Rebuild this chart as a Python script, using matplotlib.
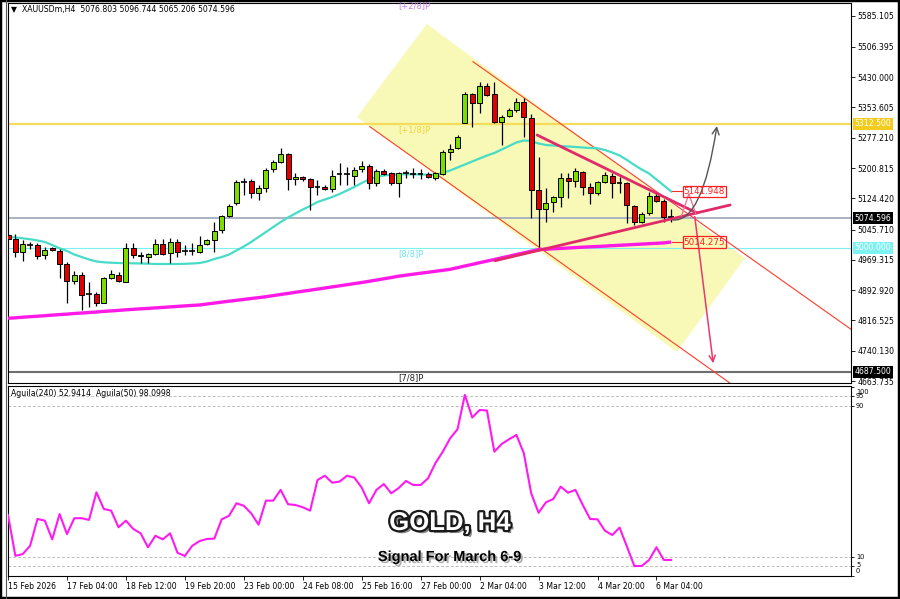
import matplotlib
matplotlib.use("Agg")
import matplotlib.pyplot as plt
import matplotlib.patheffects as pe
import matplotlib.transforms as mtrans
from matplotlib.patches import Polygon, Rectangle, FancyArrowPatch
from matplotlib.path import Path
from matplotlib.lines import Line2D
import numpy as np

# ---------------- data ----------------
header = "\u25BC  XAUUSDm,H4  5076.803 5096.744 5065.206 5074.596"

opens = [5032.0, 5021.2, 4989.9, 5006.8, 5006.8, 4980.8, 5000.0, 4991.7, 4958.1, 4916.8,
         4931.2, 4882.4, 4883.2, 4859.8, 4922.8, 4931.9, 4914.3, 5000.3, 4982.5, 4977.3,
         4983.4, 5009.3, 4985.9, 5015.1, 4991.7, 4991.2, 4989.9, 5009.3, 5019.4, 5044.6,
         5080.0, 5112.0, 5166.5, 5168.9, 5137.2, 5149.8, 5197.7, 5216.9, 5236.3, 5172.5,
         5179.0, 5172.5, 5153.8, 5153.8, 5147.3, 5185.0, 5185.0, 5181.6, 5197.7, 5206.0,
         5162.4, 5194.2, 5187.6, 5164.0, 5187.6, 5186.5, 5185.0, 5185.9, 5176.5, 5185.9,
         5240.6, 5250.7, 5315.2, 5387.6, 5365.7, 5407.8, 5387.6, 5316.2, 5332.2, 5347.3,
         5368.2, 5327.9, 5145.5, 5096.8, 5116.0, 5127.0, 5175.0, 5168.0, 5191.7, 5152.3,
         5138.7, 5166.5, 5180.8, 5164.0, 5162.4, 5105.2, 5065.6, 5086.8, 5130.4, 5118.5, 5076.803]
highs = [5036.0, 5033.8, 5019.4, 5015.0, 5011.0, 5001.0, 5002.0, 4996.0, 4963.2, 4941.2,
         4939.5, 4914.0, 4889.0, 4925.0, 4943.8, 4938.0, 5011.0, 5012.6, 4990.0, 4986.0,
         5022.7, 5021.9, 5023.7, 5021.2, 5006.8, 5011.0, 5030.3, 5021.2, 5065.6, 5082.5,
         5110.0, 5170.7, 5175.0, 5172.5, 5158.0, 5200.2, 5221.2, 5250.7, 5240.0, 5187.6,
         5181.0, 5175.0, 5170.7, 5158.0, 5196.0, 5212.8, 5204.3, 5204.3, 5219.4, 5210.0,
         5198.0, 5198.0, 5191.7, 5191.7, 5196.0, 5200.0, 5198.0, 5190.0, 5192.0, 5246.4,
         5261.5, 5284.0, 5393.5, 5389.0, 5418.6, 5414.6, 5418.6, 5334.7, 5351.5, 5376.7,
         5376.7, 5337.2, 5228.0, 5150.0, 5130.4, 5187.6, 5187.6, 5200.0, 5194.2, 5162.4,
         5169.0, 5191.7, 5187.6, 5179.0, 5165.0, 5108.0, 5090.8, 5141.2, 5138.7, 5122.0, 5096.744]
lows = [5020.0, 4975.8, 4966.5, 4996.0, 4971.5, 4971.5, 4991.0, 4924.3, 4859.8, 4908.4,
        4842.9, 4851.2, 4852.9, 4859.8, 4920.3, 4912.8, 4914.3, 4973.3, 4960.6, 4960.6,
        4981.0, 4981.6, 4960.6, 4975.8, 4981.6, 4981.6, 4987.4, 5006.8, 4989.9, 5037.9,
        5076.6, 5107.7, 5133.0, 5124.6, 5120.3, 5141.2, 5191.7, 5212.8, 5145.5, 5158.0,
        5169.0, 5095.1, 5133.0, 5145.5, 5141.2, 5158.0, 5158.0, 5158.0, 5191.7, 5147.3,
        5155.0, 5183.0, 5158.0, 5128.0, 5175.0, 5175.0, 5172.5, 5176.0, 5170.0, 5184.0,
        5221.2, 5248.0, 5313.7, 5303.6, 5339.0, 5382.6, 5313.7, 5259.0, 5330.0, 5343.0,
        5280.0, 5074.1, 5002.5, 5065.6, 5090.8, 5103.4, 5124.6, 5153.8, 5133.0, 5110.2,
        5133.0, 5162.4, 5124.6, 5137.2, 5061.5, 5057.0, 5061.5, 5082.5, 5116.0, 5065.6, 5065.206]
closes = [5022.0, 4989.2, 5008.6, 5007.5, 4979.8, 4994.2, 4994.0, 4958.9, 4916.0, 4931.9,
          4880.0, 4882.9, 4860.5, 4922.8, 4933.0, 4916.0, 4998.5, 4982.5, 4979.0, 4983.4,
          5009.3, 4984.1, 5015.1, 4989.9, 4991.2, 4991.9, 5006.8, 5019.3, 5042.9, 5080.0,
          5105.2, 5166.5, 5167.0, 5137.2, 5149.8, 5196.0, 5216.9, 5236.3, 5172.5, 5179.0,
          5172.5, 5152.3, 5154.3, 5147.3, 5181.6, 5185.5, 5185.5, 5196.0, 5206.0, 5164.0,
          5194.2, 5185.9, 5164.0, 5187.6, 5188.1, 5187.5, 5185.5, 5179.0, 5187.6, 5240.6,
          5249.6, 5280.0, 5387.6, 5365.7, 5407.8, 5385.1, 5316.2, 5330.4, 5347.3, 5368.2,
          5330.4, 5145.5, 5096.8, 5113.5, 5128.6, 5175.0, 5168.0, 5194.2, 5152.3, 5138.7,
          5166.5, 5183.4, 5164.0, 5164.5, 5107.7, 5065.6, 5085.0, 5130.4, 5118.5, 5078.2, 5074.596]

ma_fast = [5027.7, 5025.7, 5023.7, 5021.4, 5018.2, 5014.4, 5006.8, 4998.5, 4991.7, 4982.9,
           4976.5, 4970.2, 4965.2, 4963.2, 4962.2, 4961.4, 4960.9, 4960.7, 4960.2, 4959.7,
           4958.9, 4958.9, 4958.9, 4958.9, 4959.4, 4960.2, 4961.4, 4965.2, 4971.5, 4976.5,
           4982.9, 4992.9, 5003.0, 5014.4, 5027.0, 5039.6, 5052.2, 5064.8, 5076.2, 5086.3,
           5096.3, 5105.2, 5115.3, 5121.6, 5127.9, 5135.4, 5144.3, 5153.1, 5163.2, 5172.0,
           5178.3, 5182.1, 5184.1, 5185.1, 5185.1, 5185.1, 5184.6, 5184.1, 5183.4, 5188.4,
           5194.7, 5202.3, 5209.8, 5217.4, 5225.0, 5232.5, 5238.8, 5247.7, 5256.5, 5265.3,
           5270.4, 5269.1, 5262.8, 5259.0, 5257.7, 5256.5, 5255.2, 5254.0, 5252.7, 5251.4,
           5250.7, 5246.4, 5240.1, 5232.5, 5221.2, 5208.6, 5197.2, 5187.1, 5172.0, 5156.9, 5141.948]
ma_slow = [4822.0, 4823.2, 4824.7, 4826.0, 4827.2, 4828.5, 4830.0, 4831.3, 4832.5, 4834.1,
           4835.3, 4836.6, 4837.8, 4839.4, 4840.6, 4841.9, 4843.4, 4844.6, 4845.9, 4846.9,
           4848.2, 4849.4, 4850.7, 4852.0, 4853.2, 4854.5, 4855.5, 4858.0, 4860.3, 4862.8,
           4865.1, 4867.3, 4869.6, 4871.9, 4874.1, 4876.4, 4879.2, 4882.0, 4884.7, 4887.5,
           4890.3, 4892.8, 4895.6, 4898.4, 4901.1, 4903.9, 4906.7, 4909.5, 4912.2, 4915.3,
           4918.5, 4921.6, 4924.8, 4928.1, 4930.7, 4933.2, 4935.7, 4938.0, 4940.5, 4943.0,
           4945.5, 4949.6, 4953.9, 4957.9, 4962.2, 4966.2, 4970.2, 4974.5, 4978.6, 4982.9,
           4986.9, 4991.2, 4995.2, 4996.2, 4997.2, 4998.2, 4999.2, 5000.3, 5001.3, 5002.3,
           5003.0, 5004.0, 5005.1, 5006.1, 5007.1, 5008.1, 5009.1, 5010.1, 5011.1, 5012.1, 5014.275]

aguila = [32.1, 10.5, 11.4, 15.8, 30.0, 29.1, 19.2, 32.6, 22.0, 30.4,
          30.4, 29.5, 44.1, 35.3, 34.4, 25.6, 29.1, 24.7, 22.4, 15.0,
          21.1, 19.2, 22.4, 12.1, 10.4, 15.8, 18.3, 19.4, 19.6, 29.8,
          31.7, 38.3, 37.0, 33.0, 27.0, 39.7, 39.7, 45.4, 37.8, 37.4,
          36.2, 34.4, 50.6, 52.9, 49.2, 49.8, 52.9, 51.9, 46.6, 38.3,
          45.4, 48.5, 43.6, 46.3, 50.1, 48.0, 48.0, 51.5, 59.5, 65.6,
          72.7, 77.5, 95.7, 83.7, 87.7, 87.4, 65.6, 69.7, 72.2, 74.5,
          64.8, 43.6, 33.3, 38.8, 40.6, 47.1, 43.9, 45.4, 37.4, 30.0,
          29.8, 23.8, 21.5, 25.4, 15.3, 5.1, 5.1, 8.3, 15.0, 8.3, 8.3]
aguila_label = "Aguila(240) 52.9414  Aguila(50) 98.0998"
aguila_levels = [95, 90, 10, 5]
aguila_ticks = [100, 95, 90, 10, 5, 0]
aguila_tick_text = ["100", "95", "90", "10", "5", "0"]

date_ticks = [0, 8, 16, 24, 32, 40, 48, 56, 64, 72, 80, 88]
date_labels = ["15 Feb 2026", "17 Feb 04:00", "18 Feb 12:00", "19 Feb 20:00", "23 Feb 00:00",
               "24 Feb 08:00", "25 Feb 16:00", "27 Feb 00:00", "2 Mar 04:00", "3 Mar 12:00",
               "4 Mar 20:00", "6 Mar 04:00"]
price_ticks = [5585.105, 5506.395, 5430.000, 5353.605, 5277.210, 5200.815, 5124.420,
               5045.710, 4969.315, 4892.920, 4816.525, 4740.130, 4663.735]

last_price = 5074.596
murray = {"+2/8": 5625.0, "+1/8": 5312.5, "8/8": 5000.0, "7/8": 4687.5}

# drawing objects (bar index, price)
channel_box = [(56.85, 5564.2), (47.35, 5329.6), (90.77, 4737.0), (100.0, 4974.0)]
channel_upper = [(63.1, 5469.1), (121.0, 4707.4)]
channel_lower = [(49.1, 5305.2), (99.0, 4645.0)]
tri_upper = [(71.8, 5284.2), (93.5, 5087.5)]
tri_lower = [(66.1, 4967.2), (98.0, 5107.7)]
apex_marker = [(91.4, 5080.0), (92.4, 5136.0), (93.3, 5087.0)]
arrow_up = [(90.2, 5070.0), (94.2, 5062.0), (96.2, 5306.9)]
arrow_down = [(93.2, 5078.2), (95.7, 4708.4)]

title_big = "GOLD, H4"
subtitle = "Signal For March 6-9"

# ---------------- figure ----------------
W, H = 900, 599
fig = plt.figure(figsize=(9, 5.99), dpi=100)
fig.patch.set_facecolor("white")

def fx(px):
    return px / W

def fy(py):
    return 1 - py / H

ax = fig.add_axes([fx(8), fy(383), fx(851) - fx(8), fy(3) - fy(383)])
axi = fig.add_axes([fx(8), fy(576), fx(851) - fx(8), fy(386) - fy(576)])

XMAX = 114.4
for a in (ax, axi):
    a.set_xlim(0, XMAX)
    a.set_facecolor("white")
    for s in a.spines.values():
        s.set_color("black")
        s.set_linewidth(0.8)

ax.set_ylim(4658.8, 5617.1)
axi.set_ylim(-0.2, 100.4)

x = np.arange(len(opens))
o = np.array(opens); h = np.array(highs); l = np.array(lows); c = np.array(closes)

# yellow channel rectangle
ax.add_patch(Polygon(channel_box, closed=True, facecolor="#F8F9B6", edgecolor="none", zorder=0.5))

# horizontal lines
ax.axhline(murray["+1/8"], color="#F7DC5A", lw=1.6, zorder=1)
ax.axhline(last_price, color="#A9B3C1", lw=1.4, zorder=1)
ax.axhline(murray["8/8"], color="#7AF0F0", lw=0.8, zorder=1)
ax.axhline(murray["7/8"], color="#6E6E6E", lw=1.5, zorder=1)

# thin red channel lines
for ln in (channel_upper, channel_lower):
    ax.plot([ln[0][0], ln[1][0]], [ln[0][1], ln[1][1]], color="#FF3B2A", lw=0.8, zorder=1.5)

# moving averages
ax.plot(x, ma_slow, color="#FF19E6", lw=2.4, zorder=3, solid_capstyle="butt")
ax.plot(x, ma_fast, color="#46DCC8", lw=1.6, zorder=3)

# candles
up_col, dn_col = "#7CDC00", "#E00000"
ax.vlines(x, l, h, color="black", lw=0.9, zorder=4)
body = c - o
doji = np.abs(body) < 2.5
for i in range(len(x)):
    if doji[i]:
        ax.hlines(o[i], x[i] - 0.38, x[i] + 0.38, color="black", lw=1.2, zorder=5)
    else:
        col = up_col if body[i] > 0 else dn_col
        ax.add_patch(Rectangle((x[i] - 0.34, min(o[i], c[i])), 0.68, abs(body[i]),
                               facecolor=col, edgecolor="black", lw=0.7, zorder=5))

# triangle trend lines
for ln in (tri_upper, tri_lower):
    ax.plot([ln[0][0], ln[1][0]], [ln[0][1], ln[1][1]], color="#E02A6A", lw=2.0, zorder=6,
            solid_capstyle="round")
ax.plot([p[0] for p in apex_marker], [p[1] for p in apex_marker], color="#F0708F", lw=0.9, zorder=6)

# arrows
path = Path(arrow_up, [Path.MOVETO, Path.CURVE3, Path.CURVE3])
ax.add_patch(FancyArrowPatch(path=path, arrowstyle="->,head_length=5,head_width=2.5",
                             color="#555555", lw=1.0, zorder=7, mutation_scale=1))
ax.annotate("", xy=arrow_down[1], xytext=arrow_down[0],
            arrowprops=dict(arrowstyle="->,head_length=0.45,head_width=0.22",
                            color="#E8386E", lw=1.1, shrinkA=0, shrinkB=0), zorder=7)

# red price labels at MA ends
for val in (ma_fast[-1], ma_slow[-1]):
    ax.plot([x[-1] + 0.1, 91.6], [val, val], color="#FF2A2A", lw=0.8, zorder=7)
    ax.text(91.7, val, f"{val:.3f}", color="#FF2020", fontsize=6.3, va="center", ha="left",
            zorder=8, bbox=dict(boxstyle="square,pad=0.12", fc="none", ec="#FF2020", lw=0.9))

# murray labels
lx = 52.9
ax.text(lx, murray["+2/8"] - 4, "[+2/8]P", color="#C77BE8", fontsize=6, va="top", ha="left", zorder=8)
ax.text(lx, murray["+1/8"] - 4, "[+1/8]P", color="#EFD23A", fontsize=6, va="top", ha="left", zorder=8)
ax.text(lx, murray["8/8"] - 4, "[8/8]P", color="#6FE3F0", fontsize=6, va="top", ha="left", zorder=8)
ax.text(lx, murray["7/8"] - 4, "[7/8]P", color="#222222", fontsize=6, va="top", ha="left", zorder=8)

# header
ax.text(0.004, 0.983, header, transform=ax.transAxes, fontsize=5.6, va="center", ha="left", color="black")

# price axis
ax.yaxis.tick_right()
ax.set_yticks(price_ticks)
ax.set_yticklabels([f"{p:.3f}" for p in price_ticks])
ax.tick_params(axis="y", labelsize=5.6, length=3, width=0.6, pad=1.5, colors="black")
ax.set_xticks([])

tr = mtrans.blended_transform_factory(ax.transAxes, ax.transData)
for val, fc in ((murray["+1/8"], "#F2CC1E"), (last_price, "black"), (murray["8/8"], "#7DF2F2"),
                (murray["7/8"], "black")):
    ax.text(1.004, val, f"{val:.3f}", transform=tr, fontsize=5.6, color="white", va="center",
            ha="left", zorder=9, clip_on=False,
            bbox=dict(boxstyle="square,pad=0.2", fc=fc, ec="none"))

# ---------------- indicator panel ----------------
for lev in aguila_levels:
    axi.axhline(lev, color="#BDBDBD", lw=0.7, ls=(0, (3, 2)), zorder=1)
axi.plot(x, aguila, color="#FF1AF0", lw=1.5, zorder=3)
axi.text(0.004, 0.958, aguila_label, transform=axi.transAxes, fontsize=5.6, va="center", ha="left")
axi.yaxis.tick_right()
axi.set_yticks(aguila_ticks)
axi.set_yticklabels([])
axi.tick_params(axis="y", length=2, width=0.6)
tri = mtrans.blended_transform_factory(axi.transAxes, axi.transData)
# MT4 nudges the crowded edge labels inward
label_pos = {"100": 97.4, "95": 95.2, "90": 90.0, "10": 10.0, "5": 5.8, "0": 2.6}
for t in aguila_tick_text:
    axi.text(1.006, label_pos[t], t, transform=tri, fontsize=4.8, va="center", ha="left",
             clip_on=False)
axi.set_xticks(date_ticks)
axi.set_xticklabels(date_labels, ha="left")
axi.tick_params(axis="x", labelsize=5.6, length=3, width=0.6, pad=1.5)

# big captions
fig.text(0.5, fy(523), title_big, ha="center", va="center", fontsize=18.5, fontweight="bold",
         family=["Liberation Sans", "DejaVu Sans"], color="white",
         path_effects=[pe.SimplePatchShadow(offset=(2.2, -2.2), shadow_rgbFace="#555555", alpha=0.7),
                       pe.Stroke(linewidth=3.2, foreground="#1A1A1A"), pe.Normal()])
fig.text(0.5, fy(557), subtitle, ha="center", va="center", fontsize=10.5, fontweight="bold",
         family=["Liberation Sans", "DejaVu Sans"], color="black",
         path_effects=[pe.SimplePatchShadow(offset=(1.5, -1.5), shadow_rgbFace="#9A9A9A", alpha=0.8),
                       pe.Normal()])

# outer frame
fig.add_artist(Rectangle((0, 0), 1, 1, transform=fig.transFigure, fill=False, ec="black", lw=3.2))
fig.add_artist(Line2D([fx(6.0), fx(6.0)], [0, 1], transform=fig.transFigure, color="#555555", lw=0.8))

fig.savefig("out.png", dpi=100, facecolor="white")
